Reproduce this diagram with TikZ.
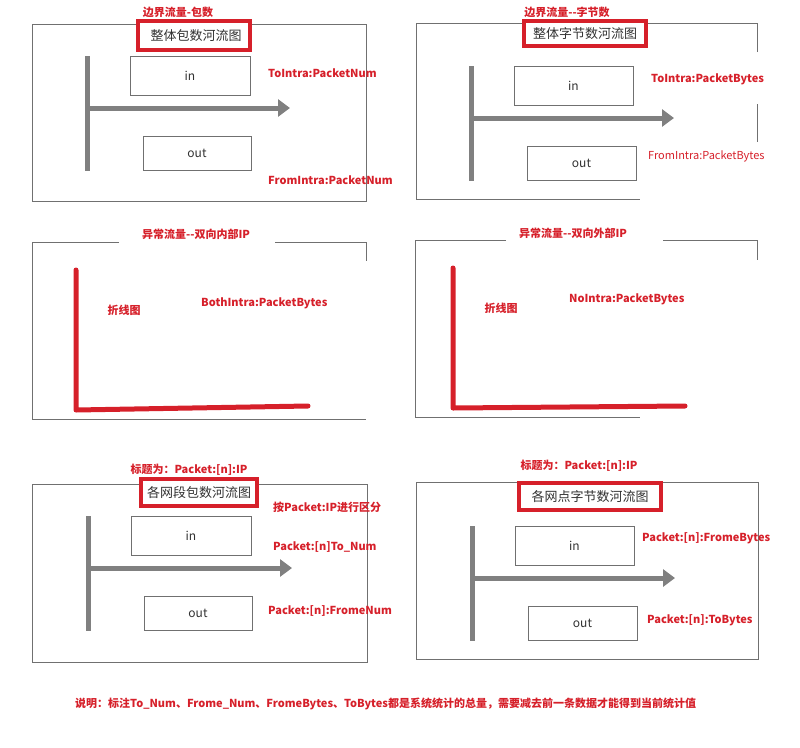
\documentclass[tikz,border=0pt]{standalone}
\usepackage{fontspec}
\setmainfont{Noto Sans CJK SC}
\usetikzlibrary{arrows.meta}
\definecolor{framegray}{RGB}{112,112,112}
\definecolor{bargray}{RGB}{128,128,128}
\definecolor{markred}{RGB}{214,32,42}
\definecolor{textgray}{RGB}{50,50,50}
\begin{document}
\begin{tikzpicture}[x=1pt,y=-1pt,
    frame/.style={draw=framegray,line width=1},
    titlebox/.style={draw=markred,line width=4,fill=white,inner sep=0,
      text=textgray,font=\fontsize{13}{15}\selectfont},
    flowbox/.style={draw=framegray,line width=1,inner sep=0,
      text=textgray,font=\fontsize{12}{14}\selectfont},
    bar/.style={draw=bargray,line width=5},
    flow/.style={draw=bargray,line width=5,-{Triangle[length=12pt,width=17pt]}},
    redlabel/.style={text=markred,inner sep=0,font=\bfseries\fontsize{11}{13}\selectfont},
    thinlabel/.style={text=markred,inner sep=0,font=\fontsize{11}{13}\selectfont},
    polyline/.style={draw=markred,line width=5,line cap=round,line join=round}]
  \useasboundingbox (0,0) rectangle (800,747);

  % panel 1
  \draw[frame] (32,24) rectangle (366,201);
  \node[redlabel] (cap1) at (178,12) {边界流量-包数};
  \node[titlebox,minimum width=112,minimum height=29] (title1) at (194,35.5) {\hspace{4pt}整体包数河流图};
  \coordinate (bar1t) at (87,56);
  \coordinate (bar1b) at (87,171);
  \coordinate (arr1s) at (87,108);
  \coordinate (arr1e) at (290,108);
  \draw[bar] (bar1t) -- (bar1b);
  \draw[flow] (arr1s) -- (arr1e);
  \node[flowbox,minimum width=120,minimum height=39] (in1) at (190,75.5) {in};
  \node[flowbox,minimum width=108,minimum height=34] (out1) at (197,153) {out};
  \node[redlabel,anchor=west] (lab1a) at (268,73) {ToIntra:PacketNum};
  \node[redlabel,anchor=west] (lab1b) at (268,180) {FromIntra:PacketNum};

  % panel 2
  \draw[frame] (757,52) -- (757,23) -- (416,23) -- (416,199) -- (640,199);
  \draw[frame] (757,104) -- (757,142);
  \node[redlabel] (cap2) at (567,12) {边界流量{-}{-}字节数};
  \node[titlebox,minimum width=122,minimum height=25] (title2) at (585,33.5) {整体字节数河流图};
  \coordinate (bar2t) at (471,66);
  \coordinate (bar2b) at (471,181);
  \coordinate (arr2s) at (471,118);
  \coordinate (arr2e) at (674,118);
  \draw[bar] (bar2t) -- (bar2b);
  \draw[flow] (arr2s) -- (arr2e);
  \node[flowbox,minimum width=119,minimum height=39] (in2) at (573.5,85.5) {in};
  \node[flowbox,minimum width=109,minimum height=34] (out2) at (581.5,163) {out};
  \node[redlabel,anchor=west] (lab2a) at (651,79) {ToIntra:PacketBytes};
  \node[thinlabel,anchor=west] (lab2b) at (648,156) {FromIntra:PacketBytes};

  % panel 3
  \draw[frame] (119,242) -- (32,242) -- (32,419) -- (366,419);
  \draw[frame] (275,242) -- (366,242) -- (366,261);
  \node[redlabel] (cap3) at (196,234) {异常流量{-}{-}双向内部IP};
  \coordinate (line3t) at (76,270);
  \coordinate (line3o) at (76,410);
  \coordinate (line3e) at (308,406);
  \draw[polyline] (line3t) -- (line3o) -- (line3e);
  \node[redlabel] (kind3) at (124,310) {折线图};
  \node[redlabel,anchor=west] (lab3) at (201,303) {BothIntra:PacketBytes};

  % panel 4
  \draw[frame] (506,240) -- (415,240) -- (415,417) -- (640,417);
  \draw[frame] (663,240) -- (757,240) -- (757,260);
  \node[redlabel] (cap4) at (573,233) {异常流量{-}{-}双向外部IP};
  \coordinate (line4t) at (453,268);
  \coordinate (line4o) at (453,408);
  \coordinate (line4e) at (685,406);
  \draw[polyline] (line4t) -- (line4o) -- (line4e);
  \node[redlabel] (kind4) at (501,308) {折线图};
  \node[redlabel,anchor=west] (lab4) at (569,299) {NoIntra:PacketBytes};

  % panel 5
  \draw[frame] (32,484) rectangle (367,662);
  \node[redlabel] (cap5) at (189,470) {标题为：Packet:[n]:IP};
  \node[titlebox,minimum width=116,minimum height=27] (title5) at (199,492.5) {各网段包数河流图};
  \coordinate (bar5t) at (88,516);
  \coordinate (bar5b) at (88,631);
  \coordinate (arr5s) at (88,568);
  \coordinate (arr5e) at (292,568);
  \draw[bar] (bar5t) -- (bar5b);
  \draw[flow] (arr5s) -- (arr5e);
  \node[flowbox,minimum width=120,minimum height=39] (in5) at (191,535.5) {in};
  \node[flowbox,minimum width=108,minimum height=34] (out5) at (198,613) {out};
  \node[redlabel,anchor=west] (lab5a) at (273,507) {按Packet:IP进行区分};
  \node[redlabel,anchor=west] (lab5b) at (273,547) {Packet:[n]To\_Num};
  \node[redlabel,anchor=west] (lab5c) at (268,611) {Packet:[n]:FromeNum};

  % panel 6
  \draw[frame] (416,482) rectangle (758,659);
  \node[redlabel] (cap6) at (579,466) {标题为：Packet:[n]:IP};
  \node[titlebox,minimum width=142,minimum height=27] (title6) at (590,496.5) {各网点字节数河流图};
  \coordinate (bar6t) at (472,526);
  \coordinate (bar6b) at (472,641);
  \coordinate (arr6s) at (472,578);
  \coordinate (arr6e) at (675,578);
  \draw[bar] (bar6t) -- (bar6b);
  \draw[flow] (arr6s) -- (arr6e);
  \node[flowbox,minimum width=119,minimum height=39] (in6) at (574.5,545.5) {in};
  \node[flowbox,minimum width=109,minimum height=34] (out6) at (582.5,623) {out};
  \node[redlabel,anchor=west] (lab6a) at (642,538) {Packet:[n]:FromeBytes};
  \node[redlabel,anchor=west] (lab6b) at (647,620) {Packet:[n]:ToBytes};

  % note
  \node[redlabel,anchor=west,font=\bfseries\fontsize{11}{13}\selectfont] (note) at (75,704)
    {说明：标注To\_Num、Frome\_Num、FromeBytes、ToBytes都是系统统计的总量，需要减去前一条数据才能得到当前统计值};
\end{tikzpicture}
\end{document}
